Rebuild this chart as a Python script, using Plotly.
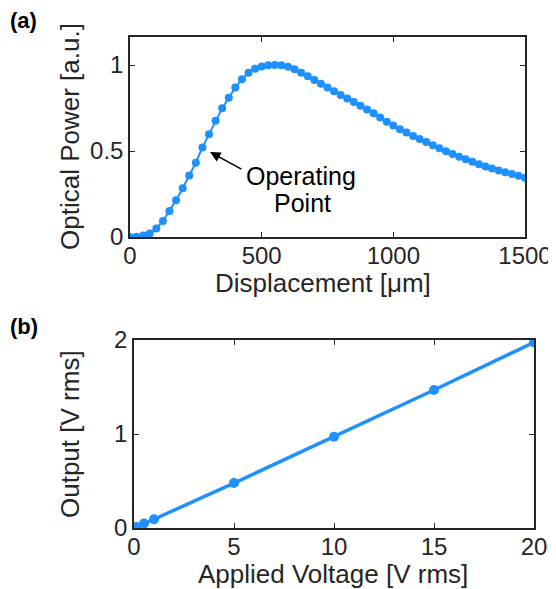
import plotly.graph_objects as go

# Panel (a): optical power vs displacement
disp_um = list(range(0, 1501, 25))
power_au = [
    0.0, 0.002, 0.008, 0.02, 0.05, 0.093, 0.151, 0.213, 0.283, 0.357,
    0.432, 0.521, 0.597, 0.676, 0.748, 0.810, 0.870, 0.917, 0.955, 0.978,
    0.992, 0.999, 1.0, 0.998, 0.990, 0.975, 0.955, 0.935, 0.913, 0.891,
    0.869, 0.847, 0.826, 0.806, 0.785, 0.763, 0.742, 0.720, 0.695, 0.670,
    0.648, 0.627, 0.607, 0.588, 0.570, 0.552, 0.534, 0.516, 0.499, 0.483,
    0.467, 0.452, 0.437, 0.423, 0.410, 0.398, 0.387, 0.376, 0.366, 0.356,
    0.345,
]

# Panel (b): output vs applied voltage
voltage_rms = [0, 0.1, 0.5, 1, 5, 10, 15, 20]
output_rms = [0.0, 0.01, 0.048, 0.093, 0.478, 0.971, 1.468, 1.975]

xticks_a = [0, 500, 1000, 1500]
yticks_a = [0, 0.5, 1]
ytick_text_a = ["0", "0.5", "1"]
xticks_b = [0, 5, 10, 15, 20]
yticks_b = [0, 1, 2]

BLUE = "#1e90ff"
AX = "#262626"
FONT = "Liberation Sans, Arial, sans-serif"
OFF = 8                      # page body margin offset
W, H = 556 - OFF, 589 - OFF  # figure size so it fits the window

fig = go.Figure()
fig.add_trace(go.Scatter(
    x=disp_um, y=power_au, mode="lines+markers",
    line=dict(color=BLUE, width=2), marker=dict(color=BLUE, size=8),
    xaxis="x", yaxis="y", showlegend=False))
fig.add_trace(go.Scatter(
    x=voltage_rms, y=output_rms, mode="lines+markers",
    line=dict(color=BLUE, width=3.5), marker=dict(color=BLUE, size=10),
    xaxis="x2", yaxis="y2", showlegend=False))

def px_x(p):
    return (p - OFF) / W

def px_y(p):
    return 1 - (p - OFF) / H

axis_common = dict(
    showline=True, linecolor=AX, linewidth=1.5, mirror="ticks",
    ticks="inside", ticklen=5, tickwidth=1.2, tickcolor=AX,
    showgrid=False, zeroline=False, automargin=False,
    tickfont=dict(family=FONT, size=24, color=AX),
)

fig.update_layout(
    template="none",
    width=W, height=H,
    margin=dict(l=0, r=0, t=0, b=0, pad=0, autoexpand=False),
    paper_bgcolor="white", plot_bgcolor="white",
    xaxis=dict(domain=[px_x(130), px_x(525)], range=[0, 1500],
               tickvals=xticks_a, anchor="y", ticklabelstandoff=-4,
               **axis_common),
    yaxis=dict(domain=[px_y(237), px_y(37)], range=[0, 1.163],
               tickvals=yticks_a, ticktext=ytick_text_a, anchor="x",
               **axis_common),
    xaxis2=dict(domain=[px_x(134), px_x(534)], range=[0, 20],
                tickvals=xticks_b, anchor="y2", ticklabelstandoff=-4,
                **axis_common),
    yaxis2=dict(domain=[px_y(528), px_y(340)], range=[0, 2],
                tickvals=yticks_b, anchor="x2", **axis_common),
)

tfont = dict(family=FONT, size=26, color=AX)
annos = [
    dict(text="Displacement [μm]", x=px_x(323), y=px_y(283), xref="paper",
         yref="paper", showarrow=False, font=tfont, xanchor="center",
         yanchor="middle"),
    dict(text="Optical Power [a.u.]", x=px_x(70), y=px_y(137), xref="paper",
         yref="paper", showarrow=False, font=tfont, textangle=-90,
         xanchor="center", yanchor="middle"),
    dict(text="Applied Voltage [V rms]", x=px_x(333), y=px_y(574),
         xref="paper", yref="paper", showarrow=False, font=tfont,
         xanchor="center", yanchor="middle"),
    dict(text="Output [V rms]", x=px_x(70), y=px_y(434), xref="paper",
         yref="paper", showarrow=False, font=tfont, textangle=-90,
         xanchor="center", yanchor="middle"),
    dict(text="<b>(a)</b>", x=px_x(8), y=px_y(20), xref="paper", yref="paper",
         showarrow=False, font=dict(family=FONT, size=22, color="#000"),
         xanchor="left", yanchor="middle"),
    dict(text="<b>(b)</b>", x=px_x(8), y=px_y(326), xref="paper",
         yref="paper", showarrow=False,
         font=dict(family=FONT, size=22, color="#000"),
         xanchor="left", yanchor="middle"),
    dict(text="Operating", x=px_x(301), y=px_y(176), xref="paper",
         yref="paper", showarrow=False,
         font=dict(family=FONT, size=25, color="#000"),
         xanchor="center", yanchor="middle"),
    dict(text="Point", x=px_x(302), y=px_y(203), xref="paper",
         yref="paper", showarrow=False,
         font=dict(family=FONT, size=25, color="#000"),
         xanchor="center", yanchor="middle"),
    dict(text="", x=304, y=0.494, xref="x", yref="y",
         ax=429, ay=0.39, axref="x", ayref="y", showarrow=True,
         arrowhead=2, arrowsize=1.3, arrowwidth=1.6, arrowcolor="#000",
         standoff=0),
]
fig.update_layout(annotations=annos)

fig.write_html("out.html")
